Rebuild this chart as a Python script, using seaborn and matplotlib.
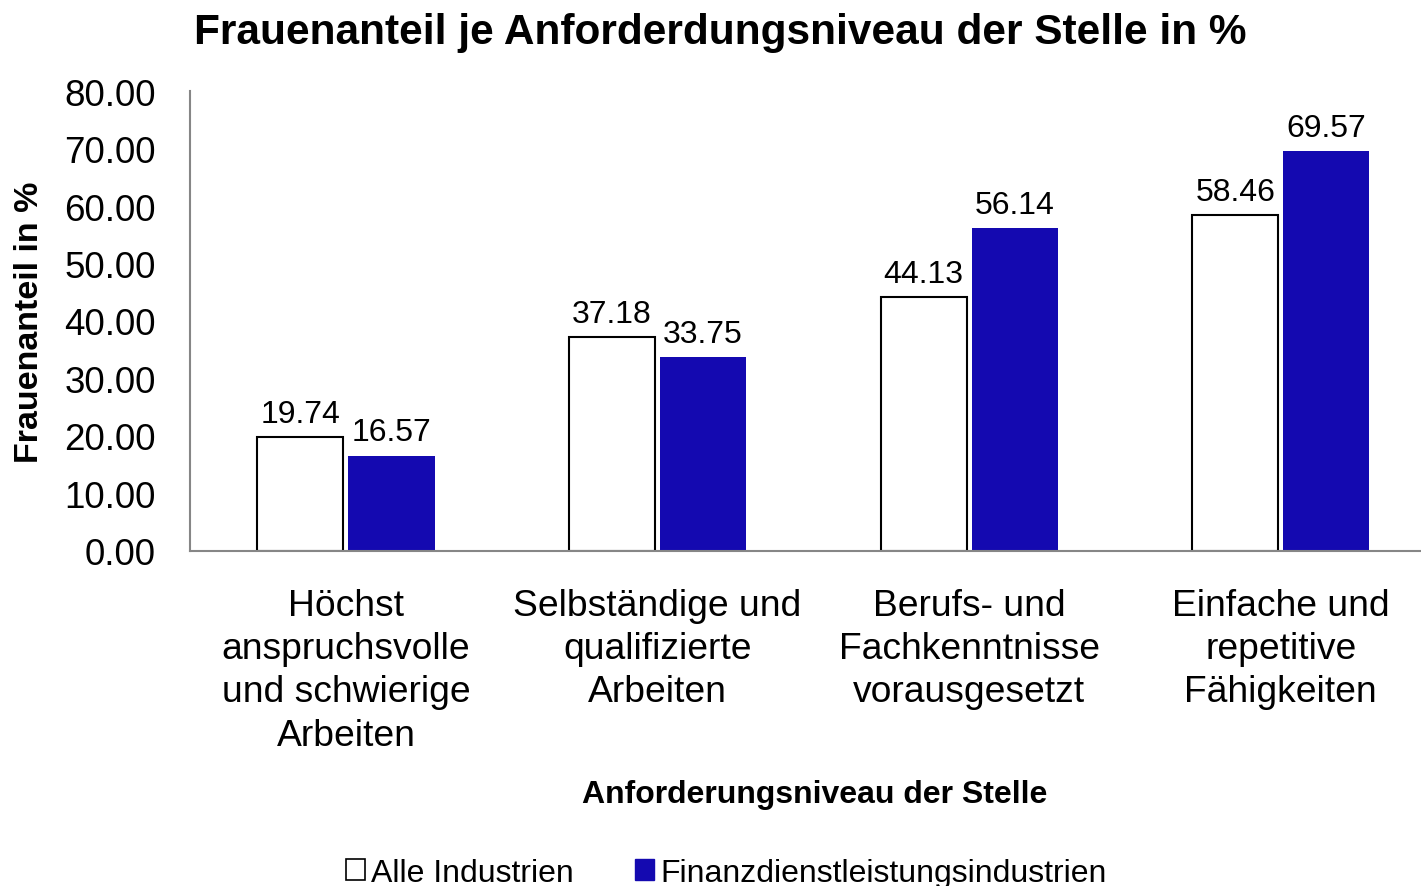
import numpy as np
import pandas as pd
import seaborn as sns
import matplotlib.pyplot as plt
from matplotlib.patches import Patch

# Data
categories = [
    "Höchst\nanspruchsvolle\nund schwierige\nArbeiten",
    "Selbständige und\nqualifizierte\nArbeiten",
    "Berufs- und\nFachkenntnisse\nvorausgesetzt",
    "Einfache und\nrepetitive\nFähigkeiten",
]
series_names = ["Alle Industrien", "Finanzdienstleistungsindustrien"]
alle_industrien = [19.74, 37.18, 44.13, 58.46]
finanz = [16.57, 33.75, 56.14, 69.57]
y_ticks = [0, 10, 20, 30, 40, 50, 60, 70, 80]

BLUE = "#1409B0"
GRAY = "#868686"

df = pd.DataFrame({
    "Kategorie": categories * 2,
    "Serie": [series_names[0]] * 4 + [series_names[1]] * 4,
    "Wert": alle_industrien + finanz,
})

sns.set_style("white")
plt.rcParams["font.family"] = ["Liberation Sans", "DejaVu Sans"]
plt.rcParams["text.color"] = "black"
plt.rcParams["xtick.color"] = "black"
plt.rcParams["ytick.color"] = "black"

fig = plt.figure(figsize=(14.21, 8.87), dpi=100)
ax = fig.add_axes([0.1338, 0.378, 0.8662, 0.518])

sns.barplot(
    data=df, x="Kategorie", y="Wert", hue="Serie",
    order=categories, hue_order=series_names,
    palette={series_names[0]: "white", series_names[1]: BLUE},
    width=0.585, gap=0.055, saturation=1, legend=False, ax=ax,
)

# outline white bars in black
for cont, name in zip(ax.containers, series_names):
    for bar in cont:
        if name == series_names[0]:
            bar.set_edgecolor("black")
            bar.set_linewidth(1.5)
        else:
            bar.set_edgecolor(BLUE)
            bar.set_linewidth(0)
    ax.bar_label(cont, fmt="%.2f", padding=6, fontsize=23)

ax.set_yticks(y_ticks)
ax.set_yticklabels([f"{v:.2f}" for v in y_ticks], fontsize=26.5)
ax.set_xticks(np.arange(len(categories)))
ax.set_xticklabels(categories, fontsize=26.8, linespacing=1.3)
ax.tick_params(axis="x", length=0, pad=27)
# boundary ticks between categories
ax.set_xticks(np.arange(-0.5, len(categories)), minor=True)
ax.tick_params(axis="x", which="minor", length=7, color=GRAY, width=1.5, direction="out")
ax.tick_params(axis="y", length=8, color=GRAY, width=1.5, direction="out", pad=16.5)
ax.set_ylim(0, 80)
ax.set_xlim(-0.5, 3.45)

for side in ["top", "right"]:
    ax.spines[side].set_visible(False)
for side in ["left", "bottom"]:
    ax.spines[side].set_color(GRAY)
    ax.spines[side].set_linewidth(1.5)

ax.set_xlabel("")
ax.set_ylabel("")
fig.text(0.021, 0.637, "Frauenanteil in %", rotation=90, ha="center", va="center",
         fontsize=24.5, fontweight="bold")
fig.text(0.5735, 0.104, "Anforderungsniveau der Stelle", ha="center", va="center",
         fontsize=23, fontweight="bold")
fig.text(0.507, 0.963, "Frauenanteil je Anforderdungsniveau der Stelle in %",
         ha="center", va="center", fontsize=30.5, fontweight="bold")

handles = [
    Patch(facecolor="white", edgecolor="black", linewidth=1.2),
    Patch(facecolor=BLUE, edgecolor=BLUE),
]
fig.legend(handles, series_names, loc="center", bbox_to_anchor=(0.511, 0.015),
           ncol=2, frameon=False, fontsize=23, handlelength=0.6, handleheight=0.6,
           handletextpad=0.2, columnspacing=1.9)

fig.savefig("out.png", dpi=100)
